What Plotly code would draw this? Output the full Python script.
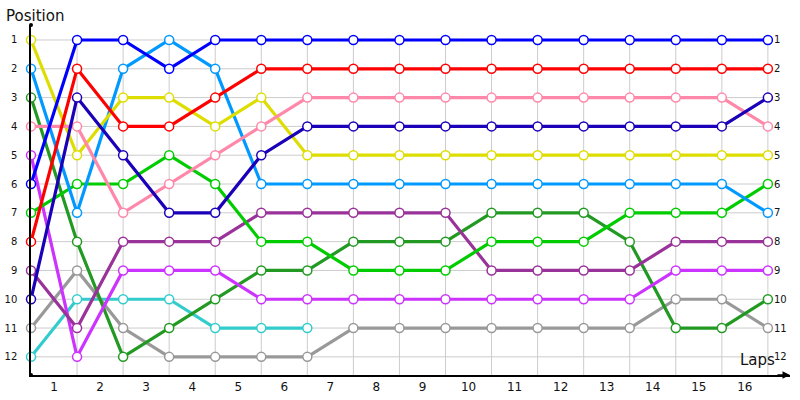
import plotly.graph_objects as go

laps = list(range(17))
lap_labels = [str(i) for i in range(1, 17)]
positions = list(range(1, 13))

blue = [6, 1, 1, 2, 1, 1, 1, 1, 1, 1, 1, 1, 1, 1, 1, 1, 1]
red = [8, 2, 4, 4, 3, 2, 2, 2, 2, 2, 2, 2, 2, 2, 2, 2, 2]
navy = [10, 3, 5, 7, 7, 5, 4, 4, 4, 4, 4, 4, 4, 4, 4, 4, 3]
pink = [4, 4, 7, 6, 5, 4, 3, 3, 3, 3, 3, 3, 3, 3, 3, 3, 4]
yellow = [1, 5, 3, 3, 4, 3, 5, 5, 5, 5, 5, 5, 5, 5, 5, 5, 5]
lightblue = [2, 7, 2, 1, 2, 6, 6, 6, 6, 6, 6, 6, 6, 6, 6, 6, 7]
green = [7, 6, 6, 5, 6, 8, 8, 9, 9, 9, 8, 8, 8, 7, 7, 7, 6]
purple = [9, 11, 8, 8, 8, 7, 7, 7, 7, 7, 9, 9, 9, 9, 8, 8, 8]
magenta = [5, 12, 9, 9, 9, 10, 10, 10, 10, 10, 10, 10, 10, 10, 9, 9, 9]
darkgreen = [3, 8, 12, 11, 10, 9, 9, 8, 8, 8, 7, 7, 7, 8, 11, 11, 10]
gray = [11, 9, 11, 12, 12, 12, 12, 11, 11, 11, 11, 11, 11, 11, 10, 10, 11]
cyan = [12, 10, 10, 10, 11, 11, 11]

series = [
    ("cyan", cyan, "#33cccc"),
    ("gray", gray, "#999999"),
    ("darkgreen", darkgreen, "#229922"),
    ("magenta", magenta, "#cc33ff"),
    ("purple", purple, "#993399"),
    ("green", green, "#00cc00"),
    ("lightblue", lightblue, "#0099ff"),
    ("yellow", yellow, "#dddd00"),
    ("pink", pink, "#ff88aa"),
    ("navy", navy, "#1a00b8"),
    ("red", red, "#ff0000"),
    ("blue", blue, "#0000ff"),
]

fig = go.Figure()

# grid (limited to data extent)
shapes = []
for p in positions:
    shapes.append(dict(type="line", xref="x", yref="y", x0=laps[0], x1=laps[-1], y0=p, y1=p,
                       line=dict(color="#cccccc", width=1), layer="below"))
for l in laps[1:]:
    shapes.append(dict(type="line", xref="x", yref="y", x0=l, x1=l, y0=positions[0], y1=12.63,
                       line=dict(color="#cccccc", width=1), layer="below"))
# small end dots on the y axis
shapes.append(dict(type="circle", xref="paper", yref="paper", xsizemode="pixel", ysizemode="pixel",
                   xanchor=0, yanchor=1, x0=-2, x1=2, y0=-2, y1=2,
                   fillcolor="black", line=dict(width=0)))
shapes.append(dict(type="circle", xref="paper", yref="paper", xsizemode="pixel", ysizemode="pixel",
                   xanchor=0, yanchor=0, x0=-2, x1=2, y0=-2, y1=2,
                   fillcolor="black", line=dict(width=0)))

for name, vals, col in series:
    fig.add_trace(go.Scatter(
        x=laps[:len(vals)], y=vals, mode="lines+markers", name=name,
        line=dict(color=col, width=3.2),
        marker=dict(symbol="circle", size=9, color="white", line=dict(color=col, width=1.5)),
        showlegend=False, hoverinfo="skip", cliponaxis=False,
    ))

annotations = []
for p in positions:
    annotations.append(dict(x=laps[-1], y=p, xref="x", yref="y", text=str(p), showarrow=False,
                            xanchor="left", yanchor="middle", xshift=4,
                            font=dict(family="DejaVu Sans", size=10, color="#111111")))
annotations.append(dict(x=-0.035, y=1.0, xref="paper", yref="paper", text="Position", showarrow=False,
                        xanchor="left", yanchor="bottom", yshift=-2,
                        font=dict(family="DejaVu Sans", size=15, color="#111111")))
annotations.append(dict(x=0.957, y=0.012, xref="paper", yref="paper", text="Laps", showarrow=False,
                        xanchor="center", yanchor="bottom",
                        font=dict(family="DejaVu Sans", size=15, color="#111111")))
# axis arrow
annotations.append(dict(x=1.0, y=0, ax=-14, ay=0, xref="paper", yref="paper", axref="pixel", ayref="pixel",
                        text="", showarrow=True, arrowhead=2, arrowsize=1, arrowwidth=1.5, arrowcolor="black"))

fig.update_layout(
    width=800, height=400,
    margin=dict(l=31, r=10, t=25, b=25),
    paper_bgcolor="white", plot_bgcolor="white",
    shapes=shapes, annotations=annotations,
    xaxis=dict(range=[0, 16.48], showgrid=False, zeroline=False, showline=True, linecolor="black",
               linewidth=1.5, tickmode="array", tickvals=[l + 0.5 for l in laps[:-1]], ticktext=lap_labels,
               ticks="", automargin=False, tickfont=dict(family="DejaVu Sans", size=12, color="#111111")),
    yaxis=dict(range=[12.63, 0.48], showgrid=False, zeroline=False, showline=True, linecolor="black",
               linewidth=1.5, tickmode="array", tickvals=positions, ticktext=[str(p) for p in positions],
               ticks="", automargin=False, ticklabelstandoff=10,
               tickfont=dict(family="DejaVu Sans", size=10, color="#111111")),
)

fig.write_html("out.html", config={"displayModeBar": False},
               post_script="document.body.style.margin='0';document.body.style.overflow='hidden';")
